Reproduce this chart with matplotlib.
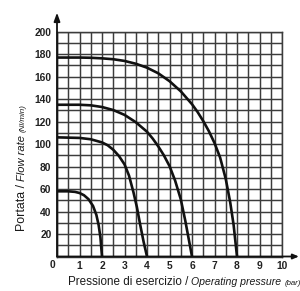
import numpy as np
import matplotlib
matplotlib.use("Agg")
import matplotlib.pyplot as plt

# ---- data ----
c1_x = [0, 0.5, 0.8, 1.0, 1.2, 1.4, 1.6, 1.75, 1.85, 1.93, 2.0]
c1_y = [58, 58, 57.5, 56.5, 54.5, 51, 45, 37, 28, 17, 0]

c2_x = [0, 1.0, 1.5, 2.0, 2.25, 2.5, 2.75, 3.0, 3.2, 3.4, 3.55, 3.7, 3.85, 4.0]
c2_y = [106, 105.5, 104.3, 101.5, 99, 95, 89.5, 82, 72, 57, 44, 28, 13, 0]

c3_x = [0, 1.0, 1.5, 2.0, 2.5, 3.0, 3.5, 4.0, 4.25, 4.5, 4.75, 5.0, 5.25, 5.5, 5.7, 5.85, 6.0]
c3_y = [135, 135, 134.5, 133, 130.3, 126, 119.5, 111, 105, 98, 90, 80.5, 67.5, 51, 32, 16, 0]

c4_x = [0, 1.0, 1.5, 2.0, 2.5, 3.0, 3.5, 4.0, 4.5, 5.0, 5.5, 6.0, 6.25, 6.5, 6.75,
        7.0, 7.25, 7.5, 7.7, 7.85, 8.0]
c4_y = [177, 177, 176.8, 176.3, 175.5, 174, 171.5, 168, 163, 156, 147, 135.5, 128.5,
        120.5, 111.5, 101, 88, 69, 48, 28, 0]

curves = [(c1_x, c1_y), (c2_x, c2_y), (c3_x, c3_y), (c4_x, c4_y)]

x_ticks = [1, 2, 3, 4, 5, 6, 7, 8, 9, 10]
y_ticks = [20, 40, 60, 80, 100, 120, 140, 160, 180, 200]

W, H = 300, 291
fig = plt.figure(figsize=(W / 100, H / 100), dpi=100)
fig.patch.set_facecolor("white")

ax = fig.add_axes([57 / W, 34.5 / H, 225 / W, 224.8 / H])
ax.set_xlim(0, 10)
ax.set_ylim(0, 200)

grid_col = "#3c3c3c"
ax.set_xticks(x_ticks)
ax.set_xticks(np.arange(0, 10.01, 0.5), minor=True)
ax.set_yticks(y_ticks)
ax.set_yticks(np.arange(0, 200.1, 10), minor=True)
ax.grid(True, which="both", color=grid_col, lw=1.05)
ax.set_axisbelow(True)
for s in ax.spines.values():
    s.set_color(grid_col)
    s.set_linewidth(1.05)
ax.tick_params(which="both", length=0)
ax.tick_params(axis="y", pad=4)
ax.tick_params(axis="x", pad=3)
tick_font = dict(family="Liberation Sans", size=7.4, weight="bold")
ax.set_xticklabels([str(v) for v in x_ticks], **tick_font, color="#222222")
ax.set_yticklabels([str(v) for v in y_ticks], **tick_font, color="#222222")
ax.text(-0.22, -3, "0", transform=ax.transData, ha="center", va="top",
        **tick_font, color="#222222")

for xs, ys in curves:
    ax.plot(xs, ys, color="#111111", lw=1.9, solid_capstyle="butt",
            solid_joinstyle="round", zorder=3)

# axes arrows
ax.annotate("", xy=(0, 217), xytext=(0, 0), xycoords="data",
            arrowprops=dict(arrowstyle="-|>,head_length=0.5,head_width=0.18",
                            color="#111111", lw=1.3, shrinkA=0, shrinkB=0),
            annotation_clip=False)
ax.annotate("", xy=(10.75, 0), xytext=(0, 0), xycoords="data",
            arrowprops=dict(arrowstyle="-|>,head_length=0.35,head_width=0.15",
                            color="#111111", lw=1.3, shrinkA=0, shrinkB=0),
            annotation_clip=False)

# composite labels
fig.canvas.draw()
renderer = fig.canvas.get_renderer()

def chain(pieces, x0, y0, rot, gap):
    pos = (x0, y0)
    for txt, style, size in pieces:
        t = fig.text(pos[0] / W, 1 - pos[1] / H, txt, family="Liberation Sans",
                     style=style, size=size, color="#1a1a1a", rotation=rot,
                     rotation_mode="anchor", ha="left", va="baseline")
        bb = t.get_window_extent(renderer)
        if rot == 0:
            pos = (bb.x1 + gap, pos[1])
        else:
            pos = (pos[0], H - bb.y1 - gap)

chain([("Pressione di esercizio /", "normal", 8.4),
       ("Operating pressure", "italic", 7.6),
       ("(bar)", "italic", 5.6)], 68, 285, 0, 3)

chain([("Portata /", "normal", 8.9),
       ("Flow rate", "italic", 8.0),
       ("(Nl/min)", "italic", 5.8)], 25, 231, 90, 3)

fig.savefig("out.png", dpi=100, facecolor="white")
